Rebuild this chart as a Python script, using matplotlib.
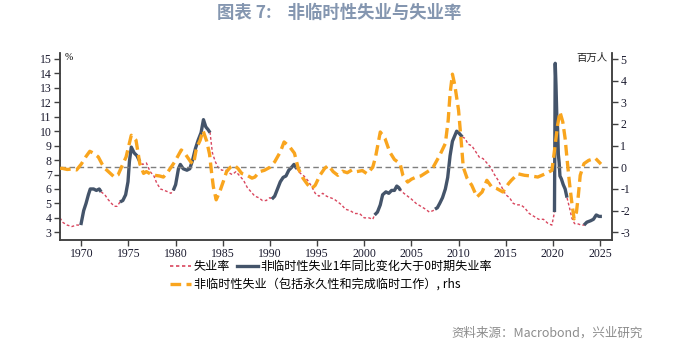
import numpy as np
import matplotlib
matplotlib.use('Agg')
import matplotlib.pyplot as plt
from matplotlib.lines import Line2D

plt.rcParams['font.family'] = ['Noto Sans CJK SC', 'DejaVu Sans']
plt.rcParams['axes.unicode_minus'] = False

# unemployment rate, %, (decimal year, value)
ur_year = [1967.75, 1968.0, 1968.5, 1969.0, 1969.5, 1969.95, 1970.25, 1970.5, 1970.75, 1970.95,
           1971.3, 1971.6, 1971.9, 1972.1, 1972.5, 1972.8, 1973.2, 1973.5, 1973.8, 1974.1,
           1974.4, 1974.7, 1974.95, 1975.1, 1975.3, 1975.6, 1975.9, 1976.2, 1976.5, 1976.9,
           1977.3, 1977.7, 1978.0, 1978.4, 1978.8, 1979.2, 1979.5, 1979.75, 1980.0, 1980.3,
           1980.5, 1980.8, 1981.2, 1981.5, 1981.8, 1982.1, 1982.4, 1982.7, 1982.95, 1983.2,
           1983.45, 1983.65, 1983.9, 1984.2, 1984.5, 1984.9, 1985.3, 1985.7, 1986.0, 1986.4,
           1986.8, 1987.2, 1987.6, 1988.0, 1988.4, 1988.8, 1989.2, 1989.6, 1990.0, 1990.2,
           1990.5, 1990.8, 1991.1, 1991.4, 1991.7, 1992.0, 1992.3, 1992.55, 1992.85, 1993.2,
           1993.6, 1994.0, 1994.4, 1994.8, 1995.2, 1995.6, 1996.0, 1996.4, 1996.8, 1997.2,
           1997.6, 1998.0, 1998.5, 1999.0, 1999.5, 2000.0, 2000.5, 2000.9, 2001.1, 2001.4,
           2001.7, 2001.95, 2002.3, 2002.6, 2002.9, 2003.2, 2003.45, 2003.65, 2003.85, 2004.2,
           2004.6, 2005.0, 2005.5, 2006.0, 2006.5, 2006.9, 2007.3, 2007.5, 2007.75, 2008.0,
           2008.3, 2008.6, 2008.85, 2009.1, 2009.35, 2009.6, 2009.8, 2010.0, 2010.4, 2010.7,
           2011.0, 2011.4, 2011.8, 2012.2, 2012.6, 2013.0, 2013.4, 2013.8, 2014.2, 2014.6,
           2015.0, 2015.4, 2015.8, 2016.2, 2016.6, 2017.0, 2017.5, 2018.0, 2018.5, 2019.0,
           2019.5, 2019.9, 2020.17, 2020.25, 2020.33, 2020.42, 2020.5, 2020.58, 2020.67, 2020.75,
           2020.9, 2021.1, 2021.3, 2021.5, 2021.8, 2022.0, 2022.3, 2022.6, 2023.0, 2023.3,
           2023.6, 2024.0, 2024.3, 2024.6, 2024.9, 2025.2]
ur_value = [4.0, 3.7, 3.5, 3.4, 3.5, 3.5, 4.5, 5.0, 5.6, 6.0,
            6.0, 5.9, 6.0, 5.8, 5.6, 5.3, 5.0, 4.8, 4.8, 5.1,
            5.2, 5.6, 6.5, 7.9, 8.9, 8.5, 8.3, 7.9, 7.7, 7.8,
            7.2, 6.9, 6.4, 6.0, 5.9, 5.8, 5.7, 5.9, 6.3, 7.4,
            7.7, 7.4, 7.3, 7.4, 8.0, 8.8, 9.4, 9.9, 10.8, 10.3,
            10.1, 9.9, 8.5, 7.9, 7.5, 7.3, 7.3, 7.1, 7.0, 7.2,
            6.9, 6.6, 6.1, 5.8, 5.5, 5.4, 5.2, 5.2, 5.4, 5.3,
            5.5, 6.0, 6.5, 6.8, 6.9, 7.3, 7.5, 7.7, 7.4, 7.1,
            6.9, 6.6, 6.2, 5.7, 5.5, 5.7, 5.5, 5.4, 5.3, 5.1,
            4.9, 4.6, 4.5, 4.3, 4.3, 4.0, 4.0, 3.9, 4.2, 4.4,
            4.9, 5.6, 5.8, 5.7, 5.9, 5.9, 6.2, 6.1, 5.9, 5.7,
            5.5, 5.3, 5.0, 4.8, 4.6, 4.4, 4.5, 4.6, 4.7, 5.0,
            5.4, 6.0, 6.8, 8.3, 9.3, 9.7, 10.0, 9.9, 9.6, 9.5,
            9.1, 9.0, 8.6, 8.2, 8.1, 7.8, 7.5, 7.0, 6.6, 6.1,
            5.6, 5.4, 5.0, 4.9, 4.9, 4.7, 4.3, 4.1, 3.9, 3.9,
            3.6, 3.5, 4.4, 14.7, 13.2, 11.0, 10.2, 8.4, 7.8, 6.9,
            6.7, 6.3, 6.0, 5.4, 4.6, 4.0, 3.6, 3.6, 3.5, 3.5,
            3.7, 3.8, 3.9, 4.2, 4.1, 4.1]

# periods when non-temporary unemployment yoy change > 0
navy_periods = [(1969.95, 1972.1), (1974.1, 1976.2), (1979.75, 1983.65), (1990.2, 1992.85),
                (2001.1, 2003.85), (2007.5, 2010.4), (2020.17, 2021.5), (2023.3, 2025.2)]

# non-temporary unemployment yoy change, millions (rhs)
nt_year = [1967.75, 1968.0, 1968.5, 1969.0, 1969.5, 1970.0, 1970.5, 1970.9, 1971.3, 1971.8,
           1972.2, 1972.5, 1973.0, 1973.5, 1973.9, 1974.2, 1974.75, 1975.3, 1975.8, 1976.2,
           1976.6, 1976.9, 1977.3, 1977.8, 1978.3, 1978.7, 1979.2, 1979.9, 1980.6, 1981.0,
           1981.6, 1981.9, 1982.2, 1982.6, 1982.9, 1983.3, 1983.6, 1983.8, 1984.0, 1984.3,
           1984.7, 1985.1, 1985.4, 1985.8, 1986.2, 1986.6, 1987.0, 1987.5, 1988.1, 1988.4,
           1988.9, 1989.4, 1990.0, 1990.5, 1991.1, 1991.5, 1992.1, 1992.6, 1993.0, 1993.5,
           1994.0, 1994.4, 1994.8, 1995.3, 1995.8, 1996.2, 1996.7, 1997.2, 1997.7, 1998.2,
           1998.7, 1999.2, 1999.8, 2000.3, 2000.9, 2001.2, 2001.7, 2002.2, 2002.7, 2003.2,
           2003.8, 2004.1, 2004.6, 2005.0, 2005.5, 2006.0, 2006.4, 2006.9, 2007.3, 2008.0,
           2008.6, 2008.9, 2009.1, 2009.35, 2009.6, 2010.0, 2010.3, 2010.5, 2010.9, 2011.4,
           2011.95, 2012.5, 2013.0, 2013.5, 2014.05, 2014.7, 2015.3, 2015.6, 2016.3, 2017.0,
           2017.7, 2018.4, 2019.2, 2019.9, 2020.2, 2020.5, 2020.75, 2021.05, 2021.3, 2021.5,
           2021.75, 2022.0, 2022.25, 2022.5, 2022.7, 2022.9, 2023.3, 2023.8, 2024.5, 2025.1]
nt_value = [-0.05, -0.05, -0.1, -0.08, -0.12, 0.15, 0.5, 0.74, 0.65, 0.48,
            0.15, -0.05, -0.25, -0.45, -0.35, -0.05, 0.48, 1.48, 1.25, 0.17,
            -0.28, -0.2, -0.3, -0.37, -0.4, -0.45, -0.2, 0.25, 0.8, 0.63,
            0.25, 0.15, 0.87, 1.25, 1.7, 1.2, 0.6, -0.2, -0.9, -1.5,
            -1.1, -0.6, -0.2, 0.0, 0.1, -0.05, -0.28, -0.35, -0.5, -0.45,
            -0.2, -0.14, 0.0, 0.25, 0.71, 1.17, 0.94, 0.65, -0.05, -0.5,
            -0.8, -0.99, -0.83, -0.37, -0.05, 0.09, -0.2, -0.37, -0.18, -0.25,
            -0.12, -0.2, -0.15, -0.3, 0.0, 0.48, 1.63, 1.33, 0.71, 0.36,
            0.17, -0.37, -0.68, -0.55, -0.45, -0.4, -0.29, -0.15, 0.0, 0.55,
            1.1, 2.17, 3.4, 4.3, 3.8, 2.64, 1.1, 0.0, -0.5, -0.83,
            -1.37, -1.14, -0.6, -0.9, -0.98, -1.14, -0.75, -0.6, -0.3, -0.37,
            -0.4, -0.45, -0.3, -0.14, 0.87, 1.94, 2.56, 2.1, 1.33, 0.4,
            -0.68, -1.6, -2.38, -2.07, -1.3, -0.37, 0.17, 0.32, 0.42, 0.15]

ur_year = np.array(ur_year)
ur_value = np.array(ur_value)
in_period = np.zeros(len(ur_year), dtype=bool)
for a, b in navy_periods:
    in_period |= (ur_year >= a) & (ur_year <= b)
navy_value = np.where(in_period, ur_value, np.nan)

red = '#D9465E'
navy = '#44546A'
orange = '#F9A51E'

fig = plt.figure(figsize=(6.79, 3.42), dpi=100)
ax = fig.add_axes([60 / 679, 102 / 342, 552 / 679, 187 / 342])
ax2 = ax.twinx()

ax.plot(ur_year, ur_value, color=red, lw=1.0, linestyle=(0, (2, 1.6)), zorder=2)
ax.plot(ur_year, navy_value, color=navy, lw=2.4, solid_capstyle='butt', zorder=3)
ax2.axhline(0, color='#7F7F7F', lw=1.0, linestyle=(0, (4, 2.5)), zorder=1)
ax2.plot(nt_year, nt_value, color=orange, lw=2.4, linestyle=(0, (3.2, 1.6)), zorder=4)

ax.set_xlim(1967.74, 2026.27)
ax.set_ylim(2.467, 15.415)
ax2.set_ylim(-3.356, 5.277)
ax.set_yticks(range(3, 16))
ax2.set_yticks(range(-3, 6))
ax.set_xticks(range(1970, 2030, 5))

for a in (ax, ax2):
    a.spines['top'].set_visible(False)
    for s in ('left', 'right', 'bottom'):
        a.spines[s].set_color('#404040')
        a.spines[s].set_linewidth(1.1)
    a.tick_params(direction='out', length=4, width=1.0, color='#404040', pad=2)
    for lab in a.get_xticklabels() + a.get_yticklabels():
        lab.set_fontfamily('Liberation Serif')
        lab.set_fontsize(8.5)
        lab.set_color('#1A1A2E')
ax2.set_yticklabels([str(v) for v in range(-3, 6)])

fig.text(65 / 679, 1 - 57 / 342, '%', ha='left', va='center', fontsize=7, family='Liberation Serif')
fig.text(607 / 679, 1 - 58 / 342, '百万人', ha='right', va='center', fontsize=7.5, color='#222222')

fig.text(0.5, 1 - 13 / 342, '图表 7:    非临时性失业与失业率', ha='center', va='center',
         fontsize=12.5, fontweight='bold', color='#8496B0')
fig.text(643 / 679, 1 - 333 / 342, '资料来源：Macrobond，兴业研究', ha='right', va='center',
         fontsize=9, color='#8C8C8C')

h_red = Line2D([], [], color=red, lw=1.2, linestyle=(0, (2, 1.6)))
h_navy = Line2D([], [], color=navy, lw=2.4)
h_orange = Line2D([], [], color=orange, lw=2.4, linestyle=(0, (3.2, 1.6)))
leg_kw = dict(frameon=False, fontsize=8.7, handlelength=1.7, handletextpad=0.25,
              columnspacing=0.6, borderpad=0, borderaxespad=0, loc='upper left')
leg1 = fig.legend([h_red, h_navy], ['失业率', '非临时性失业1年同比变化大于0时期失业率'],
                  ncol=2, bbox_to_anchor=(170 / 679, 1 - 260 / 342), **leg_kw)
leg2 = fig.legend([h_orange], ['非临时性失业（包括永久性和完成临时工作）, rhs'],
                  ncol=1, bbox_to_anchor=(170 / 679, 1 - 278 / 342), **leg_kw)

fig.savefig('out.png', dpi=100)
